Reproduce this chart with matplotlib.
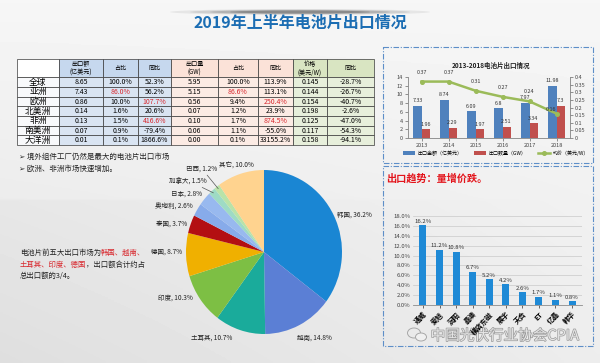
import matplotlib
matplotlib.use('Agg')
import matplotlib.pyplot as plt
import numpy as np
from matplotlib.patches import Rectangle, Ellipse
from matplotlib.lines import Line2D
from matplotlib.ticker import FuncFormatter
import matplotlib.patheffects as pe

plt.rcParams['font.family'] = ['Noto Sans CJK SC', 'DejaVu Sans']
plt.rcParams['axes.unicode_minus'] = False

# ---------------- data ----------------
title = '2019年上半年电池片出口情况'

regions = ['全球', '亚洲', '欧洲', '北美洲', '非洲', '南美洲', '大洋洲']
value_musd = [8.65, 7.43, 0.86, 0.14, 0.13, 0.07, 0.01]
value_share = [100.0, 86.0, 10.0, 1.6, 1.5, 0.9, 0.1]
value_yoy = [52.3, 56.2, 107.7, 20.6, 416.6, -79.4, 1866.6]
volume_gw = [5.95, 5.15, 0.56, 0.07, 0.10, 0.06, 0.00]
volume_share = [100.0, 86.6, 9.4, 1.2, 1.7, 1.1, 0.1]
volume_yoy = [113.9, 113.1, 250.4, 23.9, 874.5, -55.0, 33155.2]
price = [0.145, 0.144, 0.154, 0.198, 0.125, 0.117, 0.158]
price_yoy = [-28.7, -26.7, -40.7, -2.6, -47.0, -54.3, -94.1]
table_headers = ['', '出口额\n(亿美元)', '占比', '同比', '出口量\n(GW)', '占比', '同比', '价格\n(美元/W)', '同比']
# (row index, column index) of values highlighted in red
highlight = [(2, 2), (3, 3), (5, 3), (2, 5), (3, 6), (5, 6)]

pie_labels = ['韩国', '越南', '土耳其', '印度', '德国', '泰国', '奥地利', '日本', '加拿大', '巴西', '其它']
pie_values = [36.2, 14.8, 10.7, 10.3, 8.7, 3.7, 2.6, 2.8, 1.5, 1.2, 10.0]

years = ['2013', '2014', '2015', '2016', '2017', '2018']
export_amount = [7.33, 8.74, 6.09, 6.8, 7.97, 11.98]
export_gw = [1.96, 2.29, 1.97, 2.51, 3.34, 7.3]
avg_price = [0.37, 0.37, 0.31, 0.27, 0.24, 0.16]

share_cats = ['通威', '爱旭', '润阳', '晶澳', '横店东磁', '展宇', '天合', 'ET', '亿晶', '韩华']
share_values = [16.2, 11.2, 10.8, 6.7, 5.2, 4.2, 2.6, 1.7, 1.1, 0.8]

bullets = ['境外组件工厂仍然是最大的电池片出口市场', '欧洲、非洲市场快速增加。']
trend_text = '出口趋势：量增价跌。'
watermark = '中国光伏行业协会CPIA'

# ---------------- layout helpers ----------------
W, H = 600, 363
fig = plt.figure(figsize=(6, 3.63), dpi=100)


def box(x0, y0, x1, y1):
    return [x0 / W, 1 - y1 / H, (x1 - x0) / W, (y1 - y0) / H]


RED = '#d8262c'

# background
bg = fig.add_axes([0, 0, 1, 1])
bg.set_xlim(0, W)
bg.set_ylim(H, 0)
bg.axis('off')
yy, xx = np.mgrid[0:1:120j, 0:1:200j]
shade = 0.965 - 0.06 * yy * (1.2 - 0.6 * xx) - 0.02 * (1 - xx) * (yy > 0.55)
bg.imshow(shade, extent=[0, W, H, 0], cmap='gray', vmin=0, vmax=1, aspect='auto', zorder=0)
for i, a in enumerate([0.08, 0.12, 0.18, 0.3]):
    bg.add_patch(Ellipse((300, 12), 260 - 40 * i, 6 - i, color='#303030', alpha=a, lw=0, zorder=1))

bg.text(300, 23, title, ha='center', va='center', fontsize=11.5, fontweight='bold', color='#1b6db3', zorder=5)

# ---------------- table ----------------
tax = fig.add_axes(box(17, 59, 374, 145))
tax.axis('off')
rows = [table_headers]
for i in range(len(regions)):
    rows.append([regions[i], f'{value_musd[i]:.2f}', f'{value_share[i]:.1f}%', f'{value_yoy[i]:.1f}%',
                 f'{volume_gw[i]:.2f}', f'{volume_share[i]:.1f}%', f'{volume_yoy[i]:.1f}%',
                 f'{price[i]:.3f}', f'{price_yoy[i]:.1f}%'])
head_cols = ['#ffffff'] + ['#c6d8ee'] * 3 + ['#fbe2d8'] * 3 + ['#d9e5c2'] * 2
body_cols = ['#f8f9fb'] + ['#d9e4f2'] * 3 + ['#fcebe4'] * 3 + ['#e7efdb'] * 2
colours = [head_cols] + [body_cols for _ in regions]
cw = np.array([42, 44, 35, 33, 47, 40, 35, 34, 47], dtype=float)
tbl = tax.table(cellText=rows, cellColours=colours, colWidths=list(cw / cw.sum()),
                bbox=[0, 0, 1, 1], cellLoc='center')
tbl.auto_set_font_size(False)
for (r, c), cell in tbl.get_celld().items():
    cell.set_edgecolor('#3a3a3a')
    cell.set_linewidth(0.5)
    cell.set_height(1.9 if r == 0 else 1.0)
    t = cell.get_text()
    if r == 0:
        t.set_fontsize(4.4)
        t.set_linespacing(1.0)
    elif c == 0:
        t.set_fontsize(6.3)
    else:
        t.set_fontsize(5)
    if (r, c) in highlight:
        t.set_color(RED)

# ---------------- bullets & notes ----------------
for i, b in enumerate(bullets):
    bg.text(19, 157 + 12 * i, '➢ ' + b, fontsize=5.4, va='center', color='#222222', zorder=5)

t1 = bg.text(20, 253, '电池片前五大出口市场为', fontsize=5.3, va='center', color='#222222', zorder=5)
bg.annotate('韩国、越南、', xy=(1, 0.5), xycoords=t1, va='center', ha='left', fontsize=5.3, color=RED)
t3 = bg.text(20, 265, '土耳其、印度、德国', fontsize=5.3, va='center', color=RED, zorder=5)
bg.annotate('，出口额合计约占', xy=(1, 0.5), xycoords=t3, va='center', ha='left', fontsize=5.3, color='#222222')
bg.text(20, 276, '总出口额的3/4。', fontsize=5.3, va='center', color='#222222', zorder=5)

# ---------------- pie ----------------
pax = fig.add_axes(box(186, 170, 342, 334))
pie_colors = ['#1a86d3', '#5b7fd5', '#1aab9b', '#7dbf44', '#f0b000', '#b30f12',
              '#87abea', '#98b9ef', '#9edbc4', '#b9e3a8', '#ffd38f']
wedges, _ = pax.pie(pie_values, colors=pie_colors, startangle=90, counterclock=False, radius=1,
                    wedgeprops=dict(linewidth=0))
pax.set_aspect('auto')
pax.set_xlim(-1, 1)
pax.set_ylim(-1, 1)
label_pos = [(0.94, 0.45, 'left'), (0.42, -1.05, 'left'), (-0.67, -1.05, 'center'),
             (-0.91, -0.56, 'right'), (-1.05, 0.0, 'right'), (-0.99, 0.34, 'right'),
             (-0.91, 0.55, 'right'), (-0.79, 0.71, 'right'), (-0.73, 0.87, 'right'),
             (-0.60, 1.02, 'right'), (-0.35, 1.05, 'center')]
for w, name, v, (lx, ly, ha) in zip(wedges, pie_labels, pie_values, label_pos):
    txt = f'{name}, {v:.1f}%'
    if name in ('加拿大', '巴西'):
        ang = np.deg2rad((w.theta1 + w.theta2) / 2)
        pax.annotate(txt, xy=(0.97 * np.cos(ang), 0.97 * np.sin(ang)), xytext=(lx, ly),
                     ha=ha, va='center', fontsize=4.7, color='#222222',
                     arrowprops=dict(arrowstyle='-', color='#555555', lw=0.5,
                                     shrinkA=0, shrinkB=0), annotation_clip=False)
    else:
        pax.text(lx, ly, txt, ha=ha, va='center', fontsize=4.7, color='#222222', clip_on=False)

# ---------------- dashed panels ----------------
dash = (0, (5, 1.5, 1, 1.5))
bg.add_patch(Rectangle((383, 47), 210, 116, fill=False, ls=dash, ec='#5d8ec8', lw=0.8, zorder=4))
bg.add_patch(Rectangle((383, 166), 210, 180, fill=False, ls=dash, ec='#5d8ec8', lw=0.8, zorder=4))

# ---------------- 2013-2018 chart ----------------
ax2 = fig.add_axes(box(408, 77, 570, 138))
ax2.patch.set_alpha(0)
x = np.arange(len(years))
bw = 0.3
b1 = ax2.bar(x - bw / 2, export_amount, bw, color='#4f81bd', label='出口金额（亿美元）')
b2 = ax2.bar(x + bw / 2, export_gw, bw, color='#c0504d', label='出口数量（GW）')
ax2.set_xlim(-0.5, len(years) - 0.5)
ax2.set_ylim(0, 14)
ax2.set_yticks(np.arange(0, 15, 2))
ax2.set_xticks(x)
ax2.set_xticklabels(years)
ax2.bar_label(b1, labels=[f'{v:g}' for v in export_amount], padding=2, fontsize=3.9, color='#333333')
ax2.bar_label(b2, labels=[f'{v:g}' for v in export_gw], padding=2, fontsize=3.9, color='#333333')
ax2r = ax2.twinx()
ln, = ax2r.plot(x, avg_price, color='#9bbb59', lw=1.8, marker='o', ms=2.6, label='均价（美元/W）')
ax2r.set_ylim(0, 0.4)
ax2r.set_yticks(np.arange(0, 0.41, 0.05))
ax2r.yaxis.set_major_formatter(FuncFormatter(lambda v, p: f'{v:g}'))
price_label_offsets = [(0, 5), (0, 5), (0, 5), (0, 5), (0, 5), (-4, 1)]
for xi, v, off in zip(x, avg_price, price_label_offsets):
    ax2r.annotate(f'{v:g}', (xi, v), xytext=off, textcoords='offset points', ha='center',
                  va='bottom', fontsize=3.9, color='#333333', annotation_clip=False)
for a in (ax2, ax2r):
    a.tick_params(labelsize=4.0, length=2, width=0.4, colors='#444444', pad=1.5)
    a.spines['top'].set_visible(False)
    for s in ('left', 'right', 'bottom'):
        a.spines[s].set_color('#8c8c8c')
        a.spines[s].set_linewidth(0.5)
bg.text(491, 65, '2013-2018电池片出口情况', ha='center', va='center', fontsize=4.7,
        fontweight='bold', color='#222222', zorder=5)
fig.legend(handles=[b1, b2, ln], loc='center', bbox_to_anchor=(496 / W, 1 - 153 / H), ncol=3,
           fontsize=3.6, frameon=False, handlelength=2.4, handleheight=0.8, columnspacing=2.2,
           handletextpad=0.6)

# ---------------- trend heading ----------------
bg.text(386, 178, trend_text, ha='left', va='center', fontsize=7.3, fontweight='bold', color='#e3141b', zorder=5)

# ---------------- share bar chart ----------------
ax3 = fig.add_axes(box(413, 216, 582, 305))
ax3.patch.set_alpha(0)
xs = np.arange(len(share_values))
bars = ax3.bar(xs, share_values, 0.42, color='#1f8ad6', zorder=3)
ax3.set_ylim(0, 18)
ax3.set_xlim(-0.6, len(share_values) - 0.4)
ax3.set_yticks(np.arange(0, 19, 2))
ax3.yaxis.set_major_formatter(FuncFormatter(lambda v, p: f'{v:.1f}%'))
ax3.grid(axis='y', color='#c9c9c9', lw=0.5, zorder=0)
ax3.bar_label(bars, labels=[f'{v:.1f}%' for v in share_values], padding=1, fontsize=4.3, color='#333333')
ax3.set_xticks(xs)
ax3.set_xticklabels(share_cats, rotation=45, ha='right', rotation_mode='anchor',
                    fontsize=5, fontweight='bold')
ax3.tick_params(axis='y', labelsize=4.3, length=0, colors='#444444', pad=2)
ax3.tick_params(axis='x', length=2, width=0.4, pad=2)
for s in ('top', 'right', 'left'):
    ax3.spines[s].set_visible(False)
ax3.spines['bottom'].set_color('#8c8c8c')
ax3.spines['bottom'].set_linewidth(0.6)

# ---------------- watermark ----------------
bg.add_patch(Ellipse((414, 333), 13, 10, fill=False, ec='#a8a8a8', lw=0.7, zorder=5))
bg.add_patch(Ellipse((421, 337), 11, 8, fc='#f0f0f0', ec='#a8a8a8', lw=0.7, zorder=5))
bg.text(505, 336, watermark, ha='center', va='center', fontsize=10.5, color='#e6e6e6', zorder=5,
        path_effects=[pe.withStroke(linewidth=1.0, foreground='#9a9a9a')])

fig.savefig('out.png', dpi=100)
